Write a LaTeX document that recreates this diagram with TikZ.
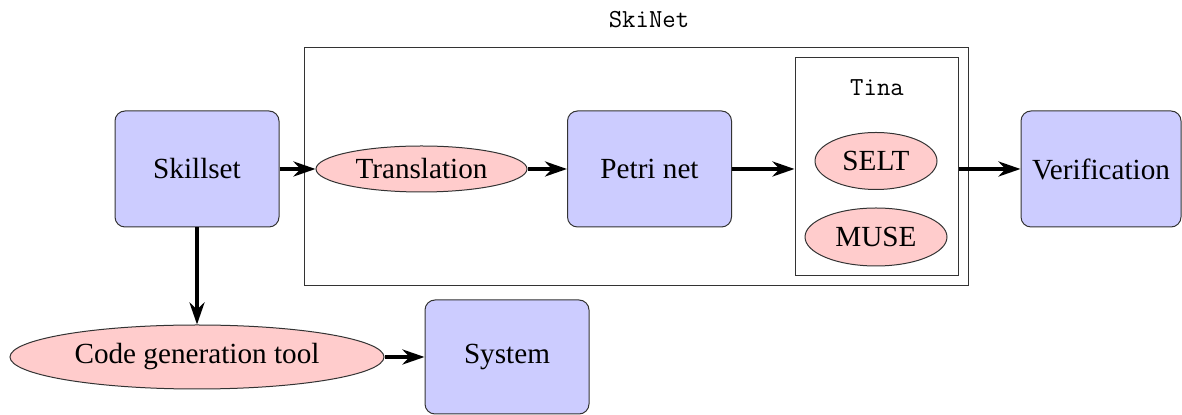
\documentclass[tikz,border=0pt]{standalone}
\usepackage{fontspec}
\setmainfont{Liberation Serif}
\usetikzlibrary{arrows.meta,shapes.geometric}
\begin{document}
\begin{tikzpicture}[x=0.5pt,y=-0.5pt,
  txt/.style={font=\fontsize{14.6}{17}\selectfont},
  blk/.style={txt,draw=black!80,line width=0.5pt,fill=blue!20,rounded corners=5pt,minimum width=82pt,minimum height=58pt,inner sep=0pt},
  ell/.style={txt,ellipse,draw=black!80,line width=0.5pt,fill=red!20,inner sep=0pt},
  frame/.style={draw=black!80,line width=0.5pt,inner sep=0pt},
  arr/.style={line width=2.2pt,-{Stealth[length=11pt,width=7.5pt,inset=3.5pt]}},
  lbl/.style={font=\fontsize{13}{15}\selectfont\ttfamily}]
\useasboundingbox (0,0) rectangle (1182,415);
% SkiNet frame
\node[frame,minimum width=332pt,minimum height=119pt] (skinet) at (636,167) {};
\node[lbl] (skinetlbl) at (649,20) {SkiNet};
% Tina frame
\node[frame,minimum width=81.5pt,minimum height=109pt] (tina) at (876.5,167) {};
\node[lbl] (tinalbl) at (877,88) {Tina};
\node[ell,minimum width=61pt,minimum height=28.5pt] (selt) at (876,161) {SELT};
\node[ell,minimum width=71pt,minimum height=29pt] (muse) at (876,237) {MUSE};
% main blocks
\node[blk] (skill) at (197,169) {Skillset};
\node[ell,minimum width=105.5pt,minimum height=23pt] (trans) at (421.5,169) {Translation};
\node[blk] (petri) at (649.5,169) {Petri net};
\node[blk,minimum width=80pt] (verif) at (1101,169) {Verification};
\node[ell,minimum width=187pt,minimum height=32pt] (code) at (197,357) {Code generation tool};
\node[blk,minimum height=57pt] (system) at (507,357) {System};
% arrows
\draw[arr] (skill.east) -- (trans.west);
\draw[arr] (trans.east) -- (petri.west);
\draw[arr] (petri.east) -- (petri.east -| tina.west);
\draw[arr] (tina.east |- verif.west) -- (verif.west);
\draw[arr] (skill.south) -- (code.north);
\draw[arr] (code.east) -- (system.west);
\end{tikzpicture}
\end{document}
